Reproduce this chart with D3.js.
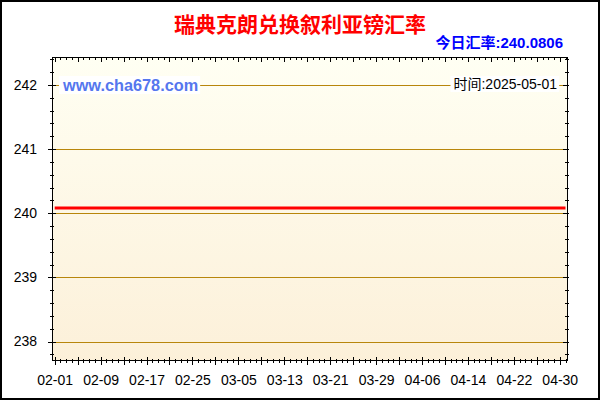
<!DOCTYPE html>
<html>
<head>
<meta charset="utf-8">
<script src="https://cdn.jsdelivr.net/npm/d3@7"></script>
<style>
  html, body { margin: 0; padding: 0; background: #fff; }
  svg { display: block; }
  .axis text { font-family: "Liberation Sans", Arial, sans-serif; font-size: 14px; fill: #000; }
</style>
</head>
<body>
<div id="chart"></div>
<script>
const titleText = '瑞典克朗兑换叙利亚镑汇率';
const todayLabel = '今日汇率:';
const todayRate = '240.0806';
const siteText = 'www.cha678.com';
const dateText = '时间:2025-05-01';

const startDay = '2025-02-01';
const endDay = '2025-05-01';

// one value per day, 02-01 .. 05-01
const rates = [
  240.0806, 240.0806, 240.0806, 240.0806, 240.0806, 240.0806, 240.0806, 240.0806, 240.0806, 240.0806,
  240.0806, 240.0806, 240.0806, 240.0806, 240.0806, 240.0806, 240.0806, 240.0806, 240.0806, 240.0806,
  240.0806, 240.0806, 240.0806, 240.0806, 240.0806, 240.0806, 240.0806, 240.0806, 240.0806, 240.0806,
  240.0806, 240.0806, 240.0806, 240.0806, 240.0806, 240.0806, 240.0806, 240.0806, 240.0806, 240.0806,
  240.0806, 240.0806, 240.0806, 240.0806, 240.0806, 240.0806, 240.0806, 240.0806, 240.0806, 240.0806,
  240.0806, 240.0806, 240.0806, 240.0806, 240.0806, 240.0806, 240.0806, 240.0806, 240.0806, 240.0806,
  240.0806, 240.0806, 240.0806, 240.0806, 240.0806, 240.0806, 240.0806, 240.0806, 240.0806, 240.0806,
  240.0806, 240.0806, 240.0806, 240.0806, 240.0806, 240.0806, 240.0806, 240.0806, 240.0806, 240.0806,
  240.0806, 240.0806, 240.0806, 240.0806, 240.0806, 240.0806, 240.0806, 240.0806, 240.0806, 240.0806
];

const xTickLabels = ['02-01', '02-09', '02-17', '02-25', '03-05', '03-13', '03-21', '03-29', '04-06', '04-14', '04-22', '04-30'];
const yTicks = [238, 239, 240, 241, 242];
const yMinorStep = 0.2;

const parse = d3.timeParse('%Y-%m-%d');
const days = d3.timeDay.range(parse(startDay), d3.timeDay.offset(parse(endDay), 1));
const data = days.map((d, i) => ({ date: d, value: rates[i] }));

const W = 600, H = 400;
const plot = { left: 52, top: 57, right: 568, bottom: 361 };

const svg = d3.select('#chart')
  .append('svg')
  .attr('width', W)
  .attr('height', H);

const defs = svg.append('defs');
const bg = defs.append('linearGradient')
  .attr('id', 'plot-bg')
  .attr('x1', 0).attr('y1', 0).attr('x2', 0).attr('y2', 1);
bg.append('stop').attr('offset', '0%').attr('stop-color', '#fffff3');
bg.append('stop').attr('offset', '100%').attr('stop-color', '#fcf0d9');

// outer frame
svg.append('rect')
  .attr('x', 1).attr('y', 1)
  .attr('width', W - 2).attr('height', H - 2)
  .attr('fill', '#fff')
  .attr('stroke', '#000')
  .attr('stroke-width', 2);

svg.append('rect')
  .attr('x', plot.left).attr('y', plot.top)
  .attr('width', plot.right - plot.left)
  .attr('height', plot.bottom - plot.top)
  .attr('fill', 'url(#plot-bg)');

const x = d3.scaleTime()
  .domain([parse(startDay), parse(endDay)])
  .range([54.7, 565.5]);

const y = d3.scaleLinear()
  .domain([238, 242])
  .range([341.5, 85]);

// grid lines
svg.append('g')
  .selectAll('line')
  .data(yTicks)
  .enter()
  .append('line')
  .attr('x1', plot.left)
  .attr('x2', plot.right)
  .attr('y1', d => Math.round(y(d)) + 0.5)
  .attr('y2', d => Math.round(y(d)) + 0.5)
  .attr('stroke', '#b8860b')
  .attr('stroke-width', 1);

// rate line
svg.append('path')
  .datum(data)
  .attr('fill', 'none')
  .attr('stroke', '#ff0000')
  .attr('stroke-width', 3)
  .attr('d', d3.line().x(d => x(d.date)).y(d => y(d.value)));

// labels with white boxes over the top grid line
function boxedText(txt, xPos, yPos, anchor, opts) {
  const g = svg.append('g');
  const t = g.append('text')
    .attr('x', xPos)
    .attr('y', yPos)
    .attr('text-anchor', anchor)
    .attr('font-family', opts.family)
    .attr('font-size', opts.size)
    .attr('font-weight', opts.weight)
    .attr('fill', opts.color)
    .text(txt);
  const b = t.node().getBBox();
  g.insert('rect', 'text')
    .attr('x', b.x - 3)
    .attr('y', b.y)
    .attr('width', b.width + 5)
    .attr('height', b.height)
    .attr('fill', '#fff');
}

boxedText(siteText, 63, 91, 'start', {
  family: '"Liberation Sans", Arial, sans-serif', size: 16.3, weight: 'bold', color: '#5577ee'
});
boxedText(dateText, 557, 89, 'end', {
  family: '"Liberation Sans", "Noto Sans CJK SC", sans-serif', size: 14, weight: 'normal', color: '#000'
});

// frame of plot
svg.append('rect')
  .attr('x', plot.left + 0.5).attr('y', plot.top + 0.5)
  .attr('width', plot.right - plot.left - 1)
  .attr('height', plot.bottom - plot.top - 1)
  .attr('fill', 'none')
  .attr('stroke', '#000')
  .attr('stroke-width', 1);

// x ticks: every day, longer every 4 days
const ticks = svg.append('g').attr('stroke', '#000').attr('stroke-width', 1);
days.forEach((d, i) => {
  const px = Math.round(x(d)) + 0.5;
  const len = i % 4 === 0 ? 4 : 2;
  ticks.append('line').attr('x1', px).attr('x2', px)
    .attr('y1', plot.bottom - len).attr('y2', plot.bottom + len);
  ticks.append('line').attr('x1', px).attr('x2', px)
    .attr('y1', plot.top).attr('y2', plot.top + len + 1);
});

// y ticks: major every 1, minor every 0.2
d3.range(237.8, 242.41, yMinorStep).forEach(v => {
  const py = Math.round(y(v)) + 0.5;
  const major = Math.abs(v - Math.round(v)) < 1e-6;
  const len = major ? 4 : 2;
  ticks.append('line').attr('x1', plot.left - len).attr('x2', plot.left + len)
    .attr('y1', py).attr('y2', py);
  ticks.append('line').attr('x1', plot.right - len - 1).attr('x2', plot.right + 1)
    .attr('y1', py).attr('y2', py);
});

// axis labels
const fmt = d3.timeFormat('%m-%d');
const labelDays = days.filter(d => xTickLabels.includes(fmt(d)));

svg.append('g')
  .attr('class', 'axis')
  .attr('transform', `translate(0,${plot.bottom})`)
  .call(d3.axisBottom(x).tickValues(labelDays).tickFormat(fmt).tickSize(0).tickPadding(14))
  .call(g => g.select('.domain').remove());

svg.append('g')
  .attr('class', 'axis')
  .attr('transform', `translate(${plot.left},0)`)
  .call(d3.axisLeft(y).tickValues(yTicks).tickFormat(d3.format('d')).tickSize(0).tickPadding(15))
  .call(g => g.select('.domain').remove());

// titles
svg.append('text')
  .attr('x', 300)
  .attr('y', 32)
  .attr('text-anchor', 'middle')
  .attr('font-family', '"Noto Sans CJK SC", sans-serif')
  .attr('font-size', 21)
  .attr('font-weight', 'bold')
  .attr('fill', '#ff0000')
  .text(titleText);

svg.append('text')
  .attr('x', 563)
  .attr('y', 48)
  .attr('text-anchor', 'end')
  .attr('font-family', '"Liberation Sans", "Noto Sans CJK SC", sans-serif')
  .attr('font-size', 15)
  .attr('font-weight', 'bold')
  .attr('fill', '#0000ff')
  .text(todayLabel + todayRate);
</script>
</body>
</html>
